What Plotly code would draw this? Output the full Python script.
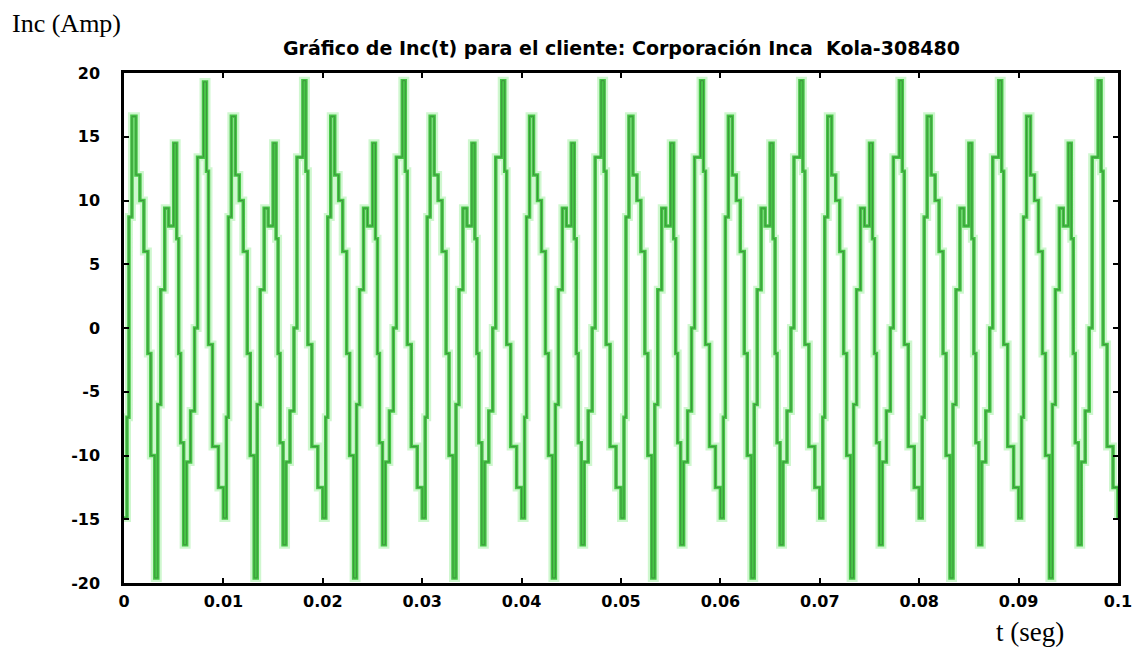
import plotly.graph_objects as go

# Inc(t) signal, cycle by cycle (period ~0.01 s)
t_seg = [
    0.0000, 0.0003, 0.0005, 0.0008, 0.0012, 0.0016, 0.0020, 0.0024, 0.0027, 0.0031, 0.0034, 0.0037,
    0.0041, 0.0045, 0.0050, 0.0053, 0.0055, 0.0057, 0.0060, 0.0063, 0.0067, 0.0071, 0.0074,
    0.0080, 0.0083, 0.0085, 0.0089, 0.0095, 0.0100, 0.0103, 0.0105, 0.0108, 0.0112, 0.0116, 0.0120, 0.0124, 0.0127,
    0.0131, 0.0134, 0.0137, 0.0141, 0.0145, 0.0150, 0.0153, 0.0155, 0.0157, 0.0160, 0.0163, 0.0167, 0.0171, 0.0174,
    0.0180, 0.0183, 0.0185, 0.0189, 0.0195, 0.0200, 0.0203, 0.0205, 0.0208, 0.0212, 0.0216, 0.0220, 0.0224, 0.0227,
    0.0231, 0.0234, 0.0237, 0.0241, 0.0245, 0.0250, 0.0253, 0.0255, 0.0257, 0.0260, 0.0263, 0.0267, 0.0271, 0.0274,
    0.0280, 0.0283, 0.0285, 0.0289, 0.0295, 0.0300, 0.0303, 0.0305, 0.0308, 0.0312, 0.0316, 0.0320, 0.0324, 0.0327,
    0.0331, 0.0334, 0.0337, 0.0341, 0.0345, 0.0350, 0.0353, 0.0355, 0.0357, 0.0360, 0.0363, 0.0367, 0.0371, 0.0374,
    0.0380, 0.0383, 0.0385, 0.0389, 0.0395, 0.0400, 0.0403, 0.0405, 0.0408, 0.0412, 0.0416, 0.0420, 0.0424, 0.0427,
    0.0431, 0.0434, 0.0437, 0.0441, 0.0445, 0.0450, 0.0453, 0.0455, 0.0457, 0.0460, 0.0463, 0.0467, 0.0471, 0.0474,
    0.0480, 0.0483, 0.0485, 0.0489, 0.0495, 0.0500, 0.0503, 0.0505, 0.0508, 0.0512, 0.0516, 0.0520, 0.0524, 0.0527,
    0.0531, 0.0534, 0.0537, 0.0541, 0.0545, 0.0550, 0.0553, 0.0555, 0.0557, 0.0560, 0.0563, 0.0567, 0.0571, 0.0574,
    0.0580, 0.0583, 0.0585, 0.0589, 0.0595, 0.0600, 0.0603, 0.0605, 0.0608, 0.0612, 0.0616, 0.0620, 0.0624, 0.0627,
    0.0631, 0.0634, 0.0637, 0.0641, 0.0645, 0.0650, 0.0653, 0.0655, 0.0657, 0.0660, 0.0663, 0.0667, 0.0671, 0.0674,
    0.0680, 0.0683, 0.0685, 0.0689, 0.0695, 0.0700, 0.0703, 0.0705, 0.0708, 0.0712, 0.0716, 0.0720, 0.0724, 0.0727,
    0.0731, 0.0734, 0.0737, 0.0741, 0.0745, 0.0750, 0.0753, 0.0755, 0.0757, 0.0760, 0.0763, 0.0767, 0.0771, 0.0774,
    0.0780, 0.0783, 0.0785, 0.0789, 0.0795, 0.0800, 0.0803, 0.0805, 0.0808, 0.0812, 0.0816, 0.0820, 0.0824, 0.0827,
    0.0831, 0.0834, 0.0837, 0.0841, 0.0845, 0.0850, 0.0853, 0.0855, 0.0857, 0.0860, 0.0863, 0.0867, 0.0871, 0.0874,
    0.0880, 0.0883, 0.0885, 0.0889, 0.0895, 0.0900, 0.0903, 0.0905, 0.0908, 0.0912, 0.0916, 0.0920, 0.0924, 0.0927,
    0.0931, 0.0934, 0.0937, 0.0941, 0.0945, 0.0950, 0.0953, 0.0955, 0.0957, 0.0960, 0.0963, 0.0967, 0.0971, 0.0974,
    0.0980, 0.0983, 0.0985, 0.0989, 0.0995, 0.1000,
]

inc_amp = [
    -14.9, -7.0, 8.7, 16.6, 12.0, 10.0, 6.0, -2.0, -10.0, -19.6, -6.0, 3.0,
    9.4, 8.0, 14.5, 7.0, -2.0, -9.0, -17.0, -10.5, -6.5, 0.0, 13.4,
    19.3, 12.3, -1.3, -9.3, -12.5, -14.9, -7.0, 8.7, 16.6, 12.0, 10.0, 6.0, -2.0, -10.0,
    -19.6, -6.0, 3.0, 9.4, 8.0, 14.5, 7.0, -2.0, -9.0, -17.0, -10.5, -6.5, 0.0, 13.4,
    19.4, 12.3, -1.3, -9.3, -12.5, -14.9, -7.0, 8.7, 16.6, 12.0, 10.0, 6.0, -2.0, -10.0,
    -19.6, -6.0, 3.0, 9.4, 8.0, 14.5, 7.0, -2.0, -9.0, -17.0, -10.5, -6.5, 0.0, 13.4,
    19.4, 12.3, -1.3, -9.3, -12.5, -14.9, -7.0, 8.7, 16.6, 12.0, 10.0, 6.0, -2.0, -10.0,
    -19.6, -6.0, 3.0, 9.4, 8.0, 14.5, 7.0, -2.0, -9.0, -17.0, -10.5, -6.5, 0.0, 13.4,
    19.4, 12.3, -1.3, -9.3, -12.5, -14.9, -7.0, 8.7, 16.6, 12.0, 10.0, 6.0, -2.0, -10.0,
    -19.6, -6.0, 3.0, 9.4, 8.0, 14.5, 7.0, -2.0, -9.0, -17.0, -10.5, -6.5, 0.0, 13.4,
    19.4, 12.3, -1.3, -9.3, -12.5, -14.9, -7.0, 8.7, 16.6, 12.0, 10.0, 6.0, -2.0, -10.0,
    -19.6, -6.0, 3.0, 9.4, 8.0, 14.5, 7.0, -2.0, -9.0, -17.0, -10.5, -6.5, 0.0, 13.4,
    19.4, 12.3, -1.3, -9.3, -12.5, -14.9, -7.0, 8.7, 16.6, 12.0, 10.0, 6.0, -2.0, -10.0,
    -19.6, -6.0, 3.0, 9.4, 8.0, 14.5, 7.0, -2.0, -9.0, -17.0, -10.5, -6.5, 0.0, 13.4,
    19.4, 12.3, -1.3, -9.3, -12.5, -14.9, -7.0, 8.7, 16.6, 12.0, 10.0, 6.0, -2.0, -10.0,
    -19.6, -6.0, 3.0, 9.4, 8.0, 14.5, 7.0, -2.0, -9.0, -17.0, -10.5, -6.5, 0.0, 13.4,
    19.4, 12.3, -1.3, -9.3, -12.5, -14.9, -7.0, 8.7, 16.6, 12.0, 10.0, 6.0, -2.0, -10.0,
    -19.6, -6.0, 3.0, 9.4, 8.0, 14.5, 7.0, -2.0, -9.0, -17.0, -10.5, -6.5, 0.0, 13.4,
    19.4, 12.3, -1.3, -9.3, -12.5, -14.9, -7.0, 8.7, 16.6, 12.0, 10.0, 6.0, -2.0, -10.0,
    -19.6, -6.0, 3.0, 9.4, 8.0, 14.5, 7.0, -2.0, -9.0, -17.0, -10.5, -6.5, 0.0, 13.4,
    19.4, 12.3, -1.3, -9.3, -12.5, -14.9,
]

x_ticks = [0, 0.01, 0.02, 0.03, 0.04, 0.05, 0.06, 0.07, 0.08, 0.09, 0.1]
x_tick_labels = ['0', '0.01', '0.02', '0.03', '0.04', '0.05', '0.06', '0.07', '0.08', '0.09', '0.1']
y_ticks = [-20, -15, -10, -5, 0, 5, 10, 15, 20]
y_tick_labels = ['-20', '-15', '-10', '-5', '0', '5', '10', '15', '20']

title = 'Gráfico de Inc(t) para el cliente: Corporación Inca  Kola-308480'

# page body has an 8px margin, so the figure origin sits at (8, 8)
OFF = 8
W, H = 1143, 652
L, R, T, B = 124 - OFF, 33, 73 - OFF, 77
pw, ph = W - L - R, H - T - B

fig = go.Figure()

# soft halo + bright stroke + darker core, like the scanned trace
fig.add_scatter(x=t_seg, y=inc_amp, mode='lines', line_shape='hv',
                line=dict(color='rgba(175,242,175,0.6)', width=8), hoverinfo='skip')
fig.add_scatter(x=t_seg, y=inc_amp, mode='lines', line_shape='hv',
                line=dict(color='#46c646', width=3.5))
fig.add_scatter(x=t_seg, y=inc_amp, mode='lines', line_shape='hv',
                line=dict(color='#3d963d', width=1))

axis_font = dict(family='DejaVu Sans', size=16, color='black', weight='bold')

fig.update_xaxes(range=[0, 0.1], tickvals=x_ticks, ticktext=x_tick_labels,
                 ticks='inside', ticklen=5, tickwidth=2, tickcolor='black',
                 showline=True, linewidth=2.5, linecolor='black', mirror='ticks',
                 showgrid=False, zeroline=False, tickfont=axis_font,
                 ticklabelstandoff=2, automargin=False)
fig.update_yaxes(range=[-20, 20], tickvals=y_ticks, ticktext=y_tick_labels,
                 ticks='inside', ticklen=5, tickwidth=2, tickcolor='black',
                 showline=True, linewidth=2.5, linecolor='black', mirror='ticks',
                 showgrid=False, zeroline=False, tickfont=axis_font,
                 ticklabelstandoff=18, automargin=False)

def px_x(x):
    return (x - OFF - L) / pw

def px_y(y):
    return (H - B - (y - OFF)) / ph

fig.add_annotation(text=title, x=px_x(621), y=px_y(48), xref='paper', yref='paper',
                   xanchor='center', yanchor='middle', showarrow=False,
                   font=dict(family='DejaVu Sans', size=19, color='black', weight='bold'))
fig.add_annotation(text='Inc (Amp)', x=px_x(10), y=px_y(24), xref='paper', yref='paper',
                   xanchor='left', yanchor='middle', showarrow=False,
                   font=dict(family='Liberation Serif', size=26, color='black'))
fig.add_annotation(text='t (seg)', x=px_x(1030), y=px_y(632), xref='paper', yref='paper',
                   xanchor='center', yanchor='middle', showarrow=False,
                   font=dict(family='Liberation Serif', size=27, color='black'))

fig.update_layout(width=W, height=H, showlegend=False,
                  paper_bgcolor='white', plot_bgcolor='white',
                  margin=dict(l=L, r=R, t=T, b=B, autoexpand=False))

fig.write_html('out.html')
